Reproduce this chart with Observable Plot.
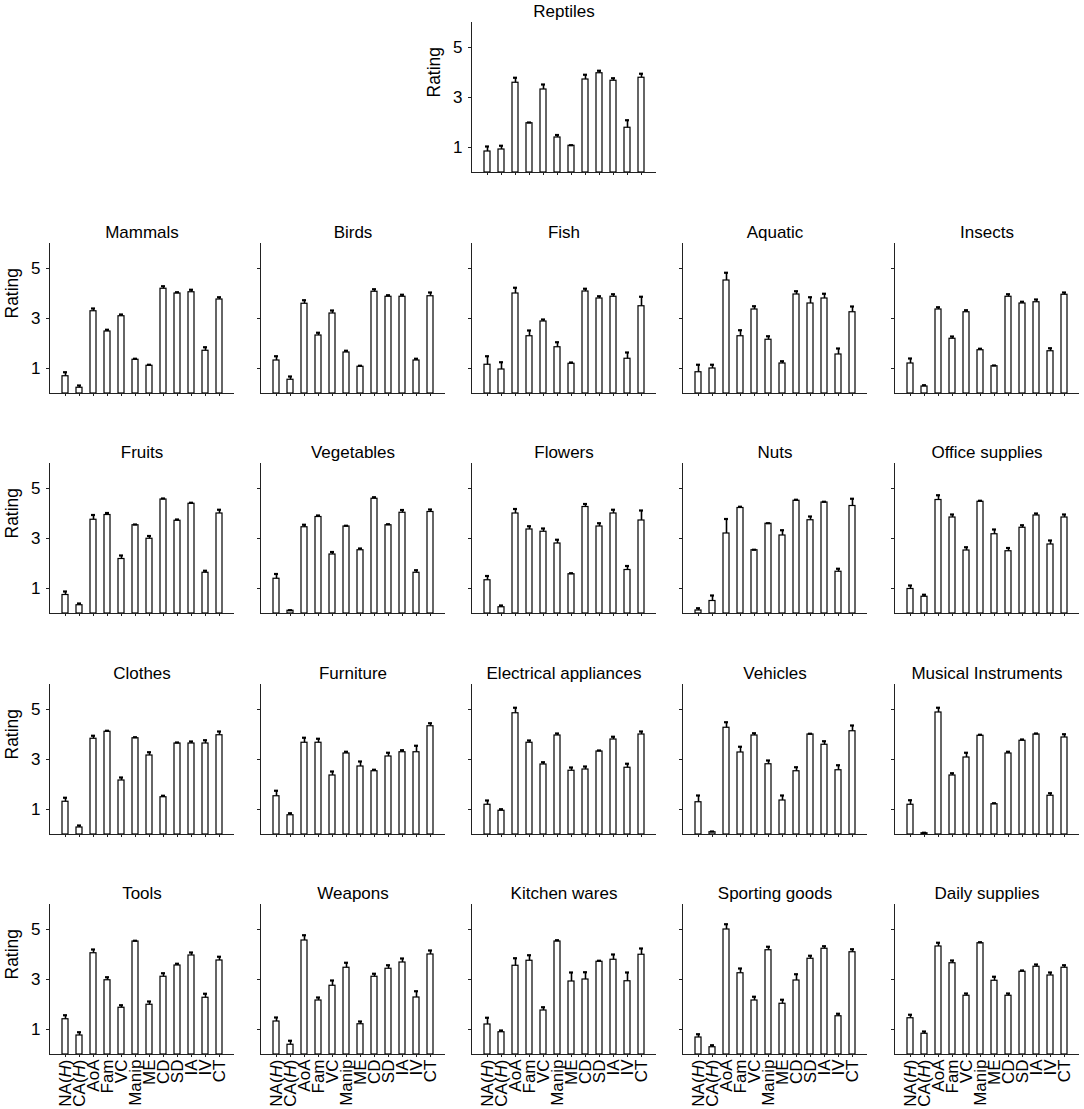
<!DOCTYPE html>
<html>
<head>
<meta charset="utf-8">
<script src="https://cdn.jsdelivr.net/npm/d3@7"></script>
<script src="https://cdn.jsdelivr.net/npm/@observablehq/plot@0.6"></script>
<style>
  html, body { margin: 0; padding: 0; background: #fff; }
  #chart { position: relative; width: 1084px; height: 1109px; overflow: hidden; background: #fff; }
  #chart svg { position: absolute; }
</style>
</head>
<body>
<div id="chart"></div>
<script>
const categories = ["NA(H)", "CA(H)", "AoA", "Fam", "VC", "Manip", "ME", "CD", "SD", "IA", "IV", "CT"];

const reptilesMean   = [0.84, 0.92, 3.59, 1.97, 3.32, 1.40, 1.07, 3.72, 3.97, 3.67, 1.79, 3.79];
const reptilesErr    = [0.20, 0.15, 0.20, 0.03, 0.20, 0.10, 0.02, 0.19, 0.10, 0.10, 0.30, 0.16];
const mammalsMean    = [0.69, 0.23, 3.29, 2.48, 3.09, 1.35, 1.11, 4.19, 4.00, 4.05, 1.71, 3.76];
const mammalsErr     = [0.16, 0.09, 0.11, 0.07, 0.07, 0.04, 0.04, 0.10, 0.05, 0.10, 0.14, 0.09];
const birdsMean      = [1.32, 0.55, 3.59, 2.32, 3.20, 1.64, 1.07, 4.07, 3.87, 3.87, 1.32, 3.89];
const birdsErr       = [0.17, 0.13, 0.14, 0.11, 0.12, 0.07, 0.04, 0.10, 0.06, 0.08, 0.07, 0.15];
const fishMean       = [1.15, 0.96, 4.00, 2.29, 2.88, 1.85, 1.19, 4.08, 3.80, 3.87, 1.39, 3.49];
const fishErr        = [0.34, 0.29, 0.23, 0.23, 0.08, 0.20, 0.05, 0.11, 0.09, 0.10, 0.25, 0.38];
const aquaticMean    = [0.85, 1.00, 4.52, 2.29, 3.36, 2.15, 1.20, 3.96, 3.60, 3.80, 1.56, 3.25];
const aquaticErr     = [0.30, 0.15, 0.31, 0.24, 0.13, 0.14, 0.09, 0.13, 0.25, 0.19, 0.24, 0.23];
const insectsMean    = [1.20, 0.28, 3.36, 2.19, 3.25, 1.73, 1.09, 3.87, 3.60, 3.65, 1.69, 3.95];
const insectsErr     = [0.20, 0.05, 0.09, 0.09, 0.08, 0.06, 0.03, 0.10, 0.07, 0.11, 0.12, 0.09];
const fruitsMean     = [0.74, 0.33, 3.75, 3.94, 2.18, 3.53, 2.99, 4.56, 3.71, 4.39, 1.63, 4.00];
const fruitsErr      = [0.14, 0.07, 0.19, 0.08, 0.14, 0.03, 0.11, 0.04, 0.05, 0.04, 0.08, 0.15];
const vegetablesMean = [1.39, 0.11, 3.45, 3.86, 2.36, 3.48, 2.53, 4.59, 3.53, 4.03, 1.63, 4.06];
const vegetablesErr  = [0.19, 0.02, 0.10, 0.06, 0.10, 0.03, 0.07, 0.06, 0.04, 0.11, 0.10, 0.10];
const flowersMean    = [1.33, 0.25, 4.00, 3.36, 3.27, 2.80, 1.57, 4.26, 3.48, 4.00, 1.74, 3.72];
const flowersErr     = [0.17, 0.07, 0.18, 0.13, 0.13, 0.15, 0.04, 0.12, 0.13, 0.15, 0.16, 0.40];
const nutsMean       = [0.12, 0.50, 3.20, 4.22, 2.53, 3.59, 3.12, 4.51, 3.73, 4.44, 1.67, 4.30];
const nutsErr        = [0.09, 0.22, 0.58, 0.05, 0.02, 0.02, 0.21, 0.04, 0.15, 0.03, 0.12, 0.29];
const officeMean     = [0.98, 0.67, 4.54, 3.84, 2.52, 4.47, 3.17, 2.49, 3.43, 3.92, 2.76, 3.84];
const officeErr      = [0.14, 0.08, 0.19, 0.12, 0.13, 0.04, 0.19, 0.13, 0.10, 0.08, 0.16, 0.12];
const clothesMean    = [1.31, 0.28, 3.83, 4.11, 2.16, 3.85, 3.16, 1.49, 3.64, 3.64, 3.64, 3.97];
const clothesErr     = [0.16, 0.08, 0.12, 0.04, 0.12, 0.04, 0.13, 0.06, 0.04, 0.08, 0.13, 0.15];
const furnitureMean  = [1.53, 0.77, 3.67, 3.67, 2.36, 3.24, 2.72, 2.53, 3.12, 3.29, 3.29, 4.33];
const furnitureErr   = [0.22, 0.08, 0.20, 0.16, 0.16, 0.07, 0.20, 0.06, 0.15, 0.08, 0.26, 0.12];
const electricalMean = [1.19, 0.95, 4.85, 3.67, 2.80, 3.96, 2.55, 2.60, 3.32, 3.80, 2.67, 4.00];
const electricalErr  = [0.17, 0.06, 0.22, 0.09, 0.09, 0.08, 0.13, 0.12, 0.04, 0.11, 0.16, 0.12];
const vehiclesMean   = [1.29, 0.09, 4.27, 3.28, 3.96, 2.81, 1.36, 2.53, 4.00, 3.59, 2.57, 4.13];
const vehiclesErr    = [0.27, 0.03, 0.22, 0.23, 0.09, 0.15, 0.20, 0.16, 0.03, 0.14, 0.20, 0.23];
const musicalMean    = [1.19, 0.05, 4.88, 2.36, 3.08, 3.95, 1.21, 3.24, 3.75, 4.00, 1.55, 3.88];
const musicalErr     = [0.18, 0.02, 0.19, 0.09, 0.19, 0.04, 0.04, 0.07, 0.05, 0.04, 0.10, 0.13];
const toolsMean      = [1.41, 0.76, 4.05, 2.97, 1.87, 4.52, 1.99, 3.11, 3.56, 3.96, 2.27, 3.76];
const toolsErr       = [0.16, 0.13, 0.15, 0.12, 0.10, 0.03, 0.13, 0.14, 0.07, 0.12, 0.16, 0.15];
const weaponsMean    = [1.32, 0.39, 4.56, 2.16, 2.75, 3.47, 1.21, 3.11, 3.43, 3.68, 2.28, 4.00];
const weaponsErr     = [0.16, 0.16, 0.21, 0.12, 0.21, 0.20, 0.11, 0.12, 0.14, 0.16, 0.25, 0.16];
const kitchenMean    = [1.20, 0.89, 3.55, 3.75, 1.76, 4.52, 2.92, 3.00, 3.71, 3.79, 2.93, 3.99];
const kitchenErr     = [0.27, 0.07, 0.30, 0.22, 0.13, 0.05, 0.36, 0.29, 0.04, 0.21, 0.35, 0.25];
const sportingMean   = [0.68, 0.29, 5.00, 3.25, 2.16, 4.17, 2.03, 2.96, 3.83, 4.23, 1.53, 4.09];
const sportingErr    = [0.13, 0.08, 0.21, 0.19, 0.15, 0.14, 0.16, 0.25, 0.12, 0.10, 0.10, 0.12];
const dailyMean      = [1.45, 0.83, 4.32, 3.65, 2.35, 4.45, 2.95, 2.35, 3.31, 3.51, 3.16, 3.47];
const dailyErr       = [0.14, 0.09, 0.15, 0.11, 0.09, 0.04, 0.16, 0.09, 0.05, 0.09, 0.12, 0.10];

const yTicks = [1, 3, 5];

const panels = [
  {name: "Reptiles", row: 0, col: 2, mean: reptilesMean, err: reptilesErr},
  {name: "Mammals", row: 1, col: 0, mean: mammalsMean, err: mammalsErr},
  {name: "Birds", row: 1, col: 1, mean: birdsMean, err: birdsErr},
  {name: "Fish", row: 1, col: 2, mean: fishMean, err: fishErr},
  {name: "Aquatic", row: 1, col: 3, mean: aquaticMean, err: aquaticErr},
  {name: "Insects", row: 1, col: 4, mean: insectsMean, err: insectsErr},
  {name: "Fruits", row: 2, col: 0, mean: fruitsMean, err: fruitsErr},
  {name: "Vegetables", row: 2, col: 1, mean: vegetablesMean, err: vegetablesErr},
  {name: "Flowers", row: 2, col: 2, mean: flowersMean, err: flowersErr},
  {name: "Nuts", row: 2, col: 3, mean: nutsMean, err: nutsErr},
  {name: "Office supplies", row: 2, col: 4, mean: officeMean, err: officeErr},
  {name: "Clothes", row: 3, col: 0, mean: clothesMean, err: clothesErr},
  {name: "Furniture", row: 3, col: 1, mean: furnitureMean, err: furnitureErr},
  {name: "Electrical appliances", row: 3, col: 2, mean: electricalMean, err: electricalErr},
  {name: "Vehicles", row: 3, col: 3, mean: vehiclesMean, err: vehiclesErr},
  {name: "Musical Instruments", row: 3, col: 4, mean: musicalMean, err: musicalErr},
  {name: "Tools", row: 4, col: 0, mean: toolsMean, err: toolsErr},
  {name: "Weapons", row: 4, col: 1, mean: weaponsMean, err: weaponsErr},
  {name: "Kitchen wares", row: 4, col: 2, mean: kitchenMean, err: kitchenErr},
  {name: "Sporting goods", row: 4, col: 3, mean: sportingMean, err: sportingErr},
  {name: "Daily supplies", row: 4, col: 4, mean: dailyMean, err: dailyErr}
];

// layout (pixels)
const colX = [48.5, 259.8, 471, 682.4, 893.7];
const rowBase = [172, 392.5, 613, 833.5, 1054];
const plotW = 185, plotH = 150;
const FONT = "'Liberation Sans', Arial, Helvetica, sans-serif";

const container = document.getElementById("chart");

for (const p of panels) {
  const data = categories.map((c, i) => ({cat: c, mean: p.mean[i], err: p.err[i]}));
  const ml = 48, mr = 6, mt = 28, mb = p.row === 4 ? 60 : 8;
  const showY = p.col === 0 || p.row === 0;
  const showX = p.row === 4;
  const svg = Plot.plot({
    width: ml + plotW + mr,
    height: mt + plotH + mb,
    marginLeft: ml, marginRight: mr, marginTop: mt, marginBottom: mb,
    style: {background: "transparent", overflow: "visible", fontFamily: FONT, fontSize: "16px", color: "#000"},
    x: {type: "band", domain: categories, paddingInner: 0.6, paddingOuter: 0.8, label: null},
    y: {domain: [0, 6], label: null},
    marks: [
      Plot.axisY({ticks: yTicks, tickSize: 3, tickPadding: 6, tickFormat: showY ? (d => String(d)) : (() => ""), fontSize: 17, label: null, stroke: "#222"}),
      Plot.axisX({tickSize: 3, tickPadding: 2, tickRotate: -90, tickFormat: showX ? (d => d) : (() => ""), fontSize: 17, label: null, stroke: "#222"}),
      Plot.barY(data, {x: "cat", y: "mean", fill: "white", stroke: "black", strokeWidth: 1.2}),
      Plot.ruleX(data, {x: "cat", y1: "mean", y2: d => d.mean + d.err, stroke: "black", strokeWidth: 1.6}),
      Plot.tickY(data, {x: "cat", y: d => d.mean + d.err, stroke: "black", strokeWidth: 2.2, insetLeft: 1, insetRight: 1}),
      Plot.ruleY([0], {stroke: "#222", strokeWidth: 1}),
      Plot.frame({anchor: "left", stroke: "#222", strokeWidth: 1}),
      Plot.text([p.name], {text: d => d, frameAnchor: "top", dy: -6, lineAnchor: "bottom", fontSize: 17}),
      showY ? Plot.text(["Rating"], {text: d => d, frameAnchor: "left", dx: -37, rotate: -90, fontSize: 17.5}) : null
    ]
  });
  svg.style.left = (colX[p.col] - ml) + "px";
  svg.style.top = (rowBase[p.row] - plotH - mt) + "px";
  // italic H in NA(H), CA(H)
  d3.select(svg).selectAll("text").each(function () {
    const m = /^(NA|CA)\(H\)$/.exec(this.textContent);
    if (m) {
      const t = d3.select(this);
      t.text(null);
      t.append("tspan").text(m[1] + "(");
      t.append("tspan").attr("font-style", "italic").text("H");
      t.append("tspan").text(")");
    }
  });
  container.appendChild(svg);
}
</script>
</body>
</html>
